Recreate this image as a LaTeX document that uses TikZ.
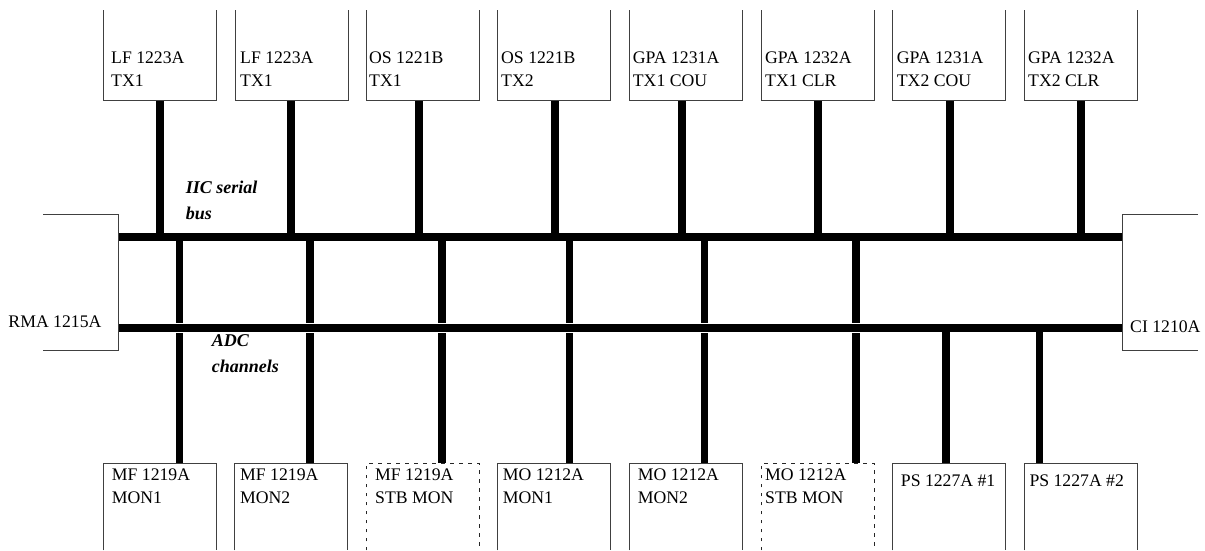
\documentclass[tikz,border=0pt]{standalone}
\usepackage{fontspec}
\setmainfont{Liberation Serif}

\begin{document}
\begin{tikzpicture} [x=1pt,y=-1pt,
  box/.style={minimum width=113pt, inner sep=0pt, outer sep=0pt, anchor=north west},
  topbox/.style={box, minimum height=90pt},
  botbox/.style={box, minimum height=87pt},
  sidebox/.style={box, minimum width=76pt, minimum height=136pt},
  frame/.style={line width=0.9pt, black!75},
  dashframe/.style={frame, black!85, dash pattern=on 3.5pt off 5.5pt},
  label/.style={anchor=north west, inner sep=0pt, align=left, font=\fontsize{17.7}{22.5}\selectfont},
  buslabel/.style={anchor=north west, inner sep=0pt, align=left, font=\fontsize{18}{25.5}\selectfont\bfseries\itshape},
  bus/.style={line width=7.5pt}]

\useasboundingbox (0,0) rectangle (1205,550);

%\draw [step=100, dotted] (0,0) grid (1205,550);

% boxes at the top, open on top
\node [topbox] (t1) at (103.3,10) {};
\node [topbox] (t2) at (235,10) {};
\node [topbox] (t3) at (366.5,10) {};
\node [topbox] (t4) at (497.7,10) {};
\node [topbox] (t5) at (629.3,10) {};
\node [topbox] (t6) at (761,10) {};
\node [topbox] (t7) at (892.7,10) {};
\node [topbox] (t8) at (1024,10) {};

% boxes at the bottom, open below
\node [botbox] (b1) at (103.3,463.3) {};
\node [botbox] (b2) at (234.3,463.3) {};
\node [botbox] (b3) at (366,463.3) {};
\node [botbox] (b4) at (497.3,463.3) {};
\node [botbox] (b5) at (629.3,463.3) {};
\node [botbox] (b6) at (761,463.3) {};
\node [botbox] (b7) at (892.3,463.3) {};
\node [botbox] (b8) at (1024.3,463.3) {};

% end boxes
\node [sidebox, minimum width=75pt] (rma) at (43,214) {};
\node [sidebox] (ci) at (1122,214) {};

% bus ends
\coordinate (iicw) at (118,237);
\coordinate (iice) at (1122,237);
\coordinate (adcw) at (118,328);
\coordinate (adce) at (1122,328);

% taps
\coordinate (t1tap) at ([xshift=56.7pt]t1.south west);
\coordinate (t2tap) at ([xshift=56pt]t2.south west);
\coordinate (t3tap) at ([xshift=52.5pt]t3.south west);
\coordinate (t4tap) at ([xshift=57.3pt]t4.south west);
\coordinate (t5tap) at ([xshift=52.7pt]t5.south west);
\coordinate (t6tap) at ([xshift=57pt]t6.south west);
\coordinate (t7tap) at ([xshift=57.3pt]t7.south west);
\coordinate (t8tap) at ([xshift=57pt]t8.south west);
\coordinate (b1tap) at ([xshift=76.2pt]b1.north west);
\coordinate (b2tap) at ([xshift=75.7pt]b2.north west);
\coordinate (b3tap) at ([xshift=76pt]b3.north west);
\coordinate (b4tap) at ([xshift=72.4pt]b4.north west);
\coordinate (b5tap) at ([xshift=75.4pt]b5.north west);
\coordinate (b6tap) at ([xshift=95pt]b6.north west);
\coordinate (b7tap) at ([xshift=53.7pt]b7.north west);
\coordinate (b8tap) at ([xshift=15.4pt]b8.north west);

\draw [bus] (t1tap) -- (t1tap |- iicw);
\draw [bus] (t2tap) -- (t2tap |- iicw);
\draw [bus] (t3tap) -- (t3tap |- iicw);
\draw [bus] (t4tap) -- (t4tap |- iicw);
\draw [bus] (t5tap) -- (t5tap |- iicw);
\draw [bus] (t6tap) -- (t6tap |- iicw);
\draw [bus] (t7tap) -- (t7tap |- iicw);
\draw [bus] (t8tap) -- (t8tap |- iicw);

\draw [bus] (b1tap |- iicw) -- (b1tap);
\draw [bus] (b2tap |- iicw) -- (b2tap);
\draw [bus] (b3tap |- iicw) -- (b3tap);
\draw [bus] (b4tap |- iicw) -- (b4tap);
\draw [bus] (b5tap |- iicw) -- (b5tap);
\draw [bus] (b6tap |- iicw) -- (b6tap);

% the two buses
\draw [bus] (iicw) -- (iice);
\draw [line width=10.6pt, white] (adcw) -- (adce);
\draw [bus] (adcw) -- (adce);

\draw [bus] (b7tap |- adcw) -- (b7tap);
\draw [bus] (b8tap |- adcw) -- (b8tap);

% outlines
\draw [frame] (t1.north west) -- (t1.south west) -- (t1.south east) -- (t1.north east);
\draw [frame] (t2.north west) -- (t2.south west) -- (t2.south east) -- (t2.north east);
\draw [frame] (t3.north west) -- (t3.south west) -- (t3.south east) -- (t3.north east);
\draw [frame] (t4.north west) -- (t4.south west) -- (t4.south east) -- (t4.north east);
\draw [frame] (t5.north west) -- (t5.south west) -- (t5.south east) -- (t5.north east);
\draw [frame] (t6.north west) -- (t6.south west) -- (t6.south east) -- (t6.north east);
\draw [frame] (t7.north west) -- (t7.south west) -- (t7.south east) -- (t7.north east);
\draw [frame] (t8.north west) -- (t8.south west) -- (t8.south east) -- (t8.north east);

\draw [frame] (b1.south west) -- (b1.north west) -- (b1.north east) -- (b1.south east);
\draw [frame] (b2.south west) -- (b2.north west) -- (b2.north east) -- (b2.south east);
\draw [dashframe] (b3.south west) -- (b3.north west) -- (b3.north east) -- (b3.south east);
\draw [frame] (b4.south west) -- (b4.north west) -- (b4.north east) -- (b4.south east);
\draw [frame] (b5.south west) -- (b5.north west) -- (b5.north east) -- (b5.south east);
\draw [dashframe] (b6.south west) -- (b6.north west) -- (b6.north east) -- (b6.south east);
\draw [frame] (b7.south west) -- (b7.north west) -- (b7.north east) -- (b7.south east);
\draw [frame] (b8.south west) -- (b8.north west) -- (b8.north east) -- (b8.south east);

\draw [frame] (rma.north west) -- (rma.north east) -- (rma.south east) -- (rma.south west);
\draw [frame] (ci.north east) -- (ci.north west) -- (ci.south west) -- (ci.south east);

% labels
\node [label] (t1lbl) at (111,52) {LF 1223A\\TX1};
\node [label] (t2lbl) at (240,52) {LF 1223A\\TX1};
\node [label] (t3lbl) at (369,52) {OS 1221B\\TX1};
\node [label] (t4lbl) at (501,52) {OS 1221B\\TX2};
\node [label] (t5lbl) at (632.7,52) {GPA 1231A\\TX1 COU};
\node [label] (t6lbl) at (765,52) {GPA 1232A\\TX1 CLR};
\node [label] (t7lbl) at (896.7,52) {GPA 1231A\\TX2 COU};
\node [label] (t8lbl) at (1028,52) {GPA 1232A\\TX2 CLR};

\node [label] (b1lbl) at (111.7,468.7) {MF 1219A\\MON1};
\node [label] (b2lbl) at (240,468.7) {MF 1219A\\MON2};
\node [label] (b3lbl) at (375,468.7) {MF 1219A\\STB MON};
\node [label] (b4lbl) at (502.7,468.7) {MO 1212A\\MON1};
\node [label] (b5lbl) at (637.7,468.7) {MO 1212A\\MON2};
\node [label] (b6lbl) at (765,468.7) {MO 1212A\\STB MON};
\node [label] (b7lbl) at (900.7,475) {PS 1227A \#1};
\node [label] (b8lbl) at (1029.3,475) {PS 1227A \#2};

\node [label] (rmalbl) at (8.3,316) {RMA 1215A};
\node [label] (cilbl) at (1130,321) {CI 1210A};

\node [buslabel] (iiclbl) at (185.7,181) {IIC serial\\bus};
\node [buslabel] (adclbl) at (211.7,334.5) {ADC\\channels};

\end{tikzpicture}
\end{document}
